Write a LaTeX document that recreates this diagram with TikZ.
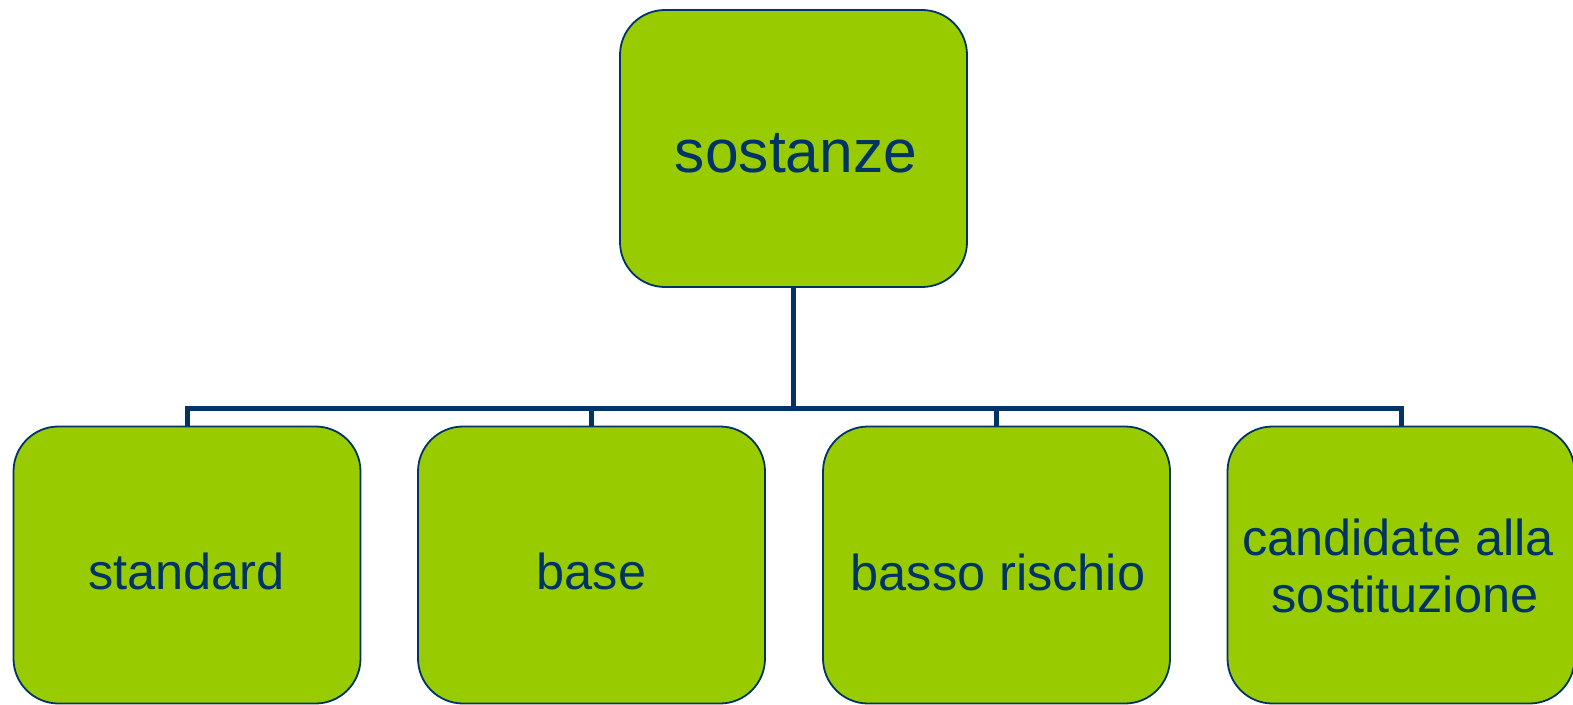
\documentclass[tikz,border=0pt]{standalone}
\usepackage{fontspec}
\setmainfont{Liberation Sans}
\definecolor{boxgreen}{HTML}{99CC00}
\definecolor{navy}{HTML}{003366}
\tikzset{
  box/.style={draw=navy, line width=1.8pt, fill=boxgreen, rounded corners=45pt,
    minimum width=347pt, minimum height=277pt, inner sep=0pt},
  lbl/.style={anchor=base, inner sep=0pt, text=navy, font=\fontsize{50.5}{58}\selectfont},
  biglbl/.style={lbl, font=\fontsize{60.5}{70}\selectfont},
  conn/.style={draw=navy, line width=5pt}
}
\begin{document}
\begin{tikzpicture}[x=1pt,y=-1pt]
\useasboundingbox (0,0) rectangle (1573,704);
\clip (0,0) rectangle (1573,704);
\fill[white] (0,0) rectangle (1573,704);
\coordinate (bar) at (794,408);
\node[box] (top) at (793.5,148.5) {};
\node[box] (b1) at (187,565) {};
\node[box] (b2) at (591.5,565) {};
\node[box] (b3) at (996.5,565) {};
\node[box] (b4) at (1401,565) {};
\node[biglbl] (t0) at (796,172) {sostanze};
\node[lbl] (t1) at (186.5,589) {standard};
\node[lbl] (t2) at (591.5,589) {base};
\node[lbl] (t3) at (998,590) {basso rischio};
\node[lbl] (t4a) at (1398,555) {candidate alla};
\node[lbl] (t4b) at (1405,612) {sostituzione};
\draw[conn] (top.south) -- (top.south |- bar);
\draw[conn] (b1.north) -- (b1.north |- bar) -- (b4.north |- bar) -- (b4.north);
\draw[conn] (b2.north) -- (b2.north |- bar);
\draw[conn] (b3.north) -- (b3.north |- bar);
\end{tikzpicture}
\end{document}
